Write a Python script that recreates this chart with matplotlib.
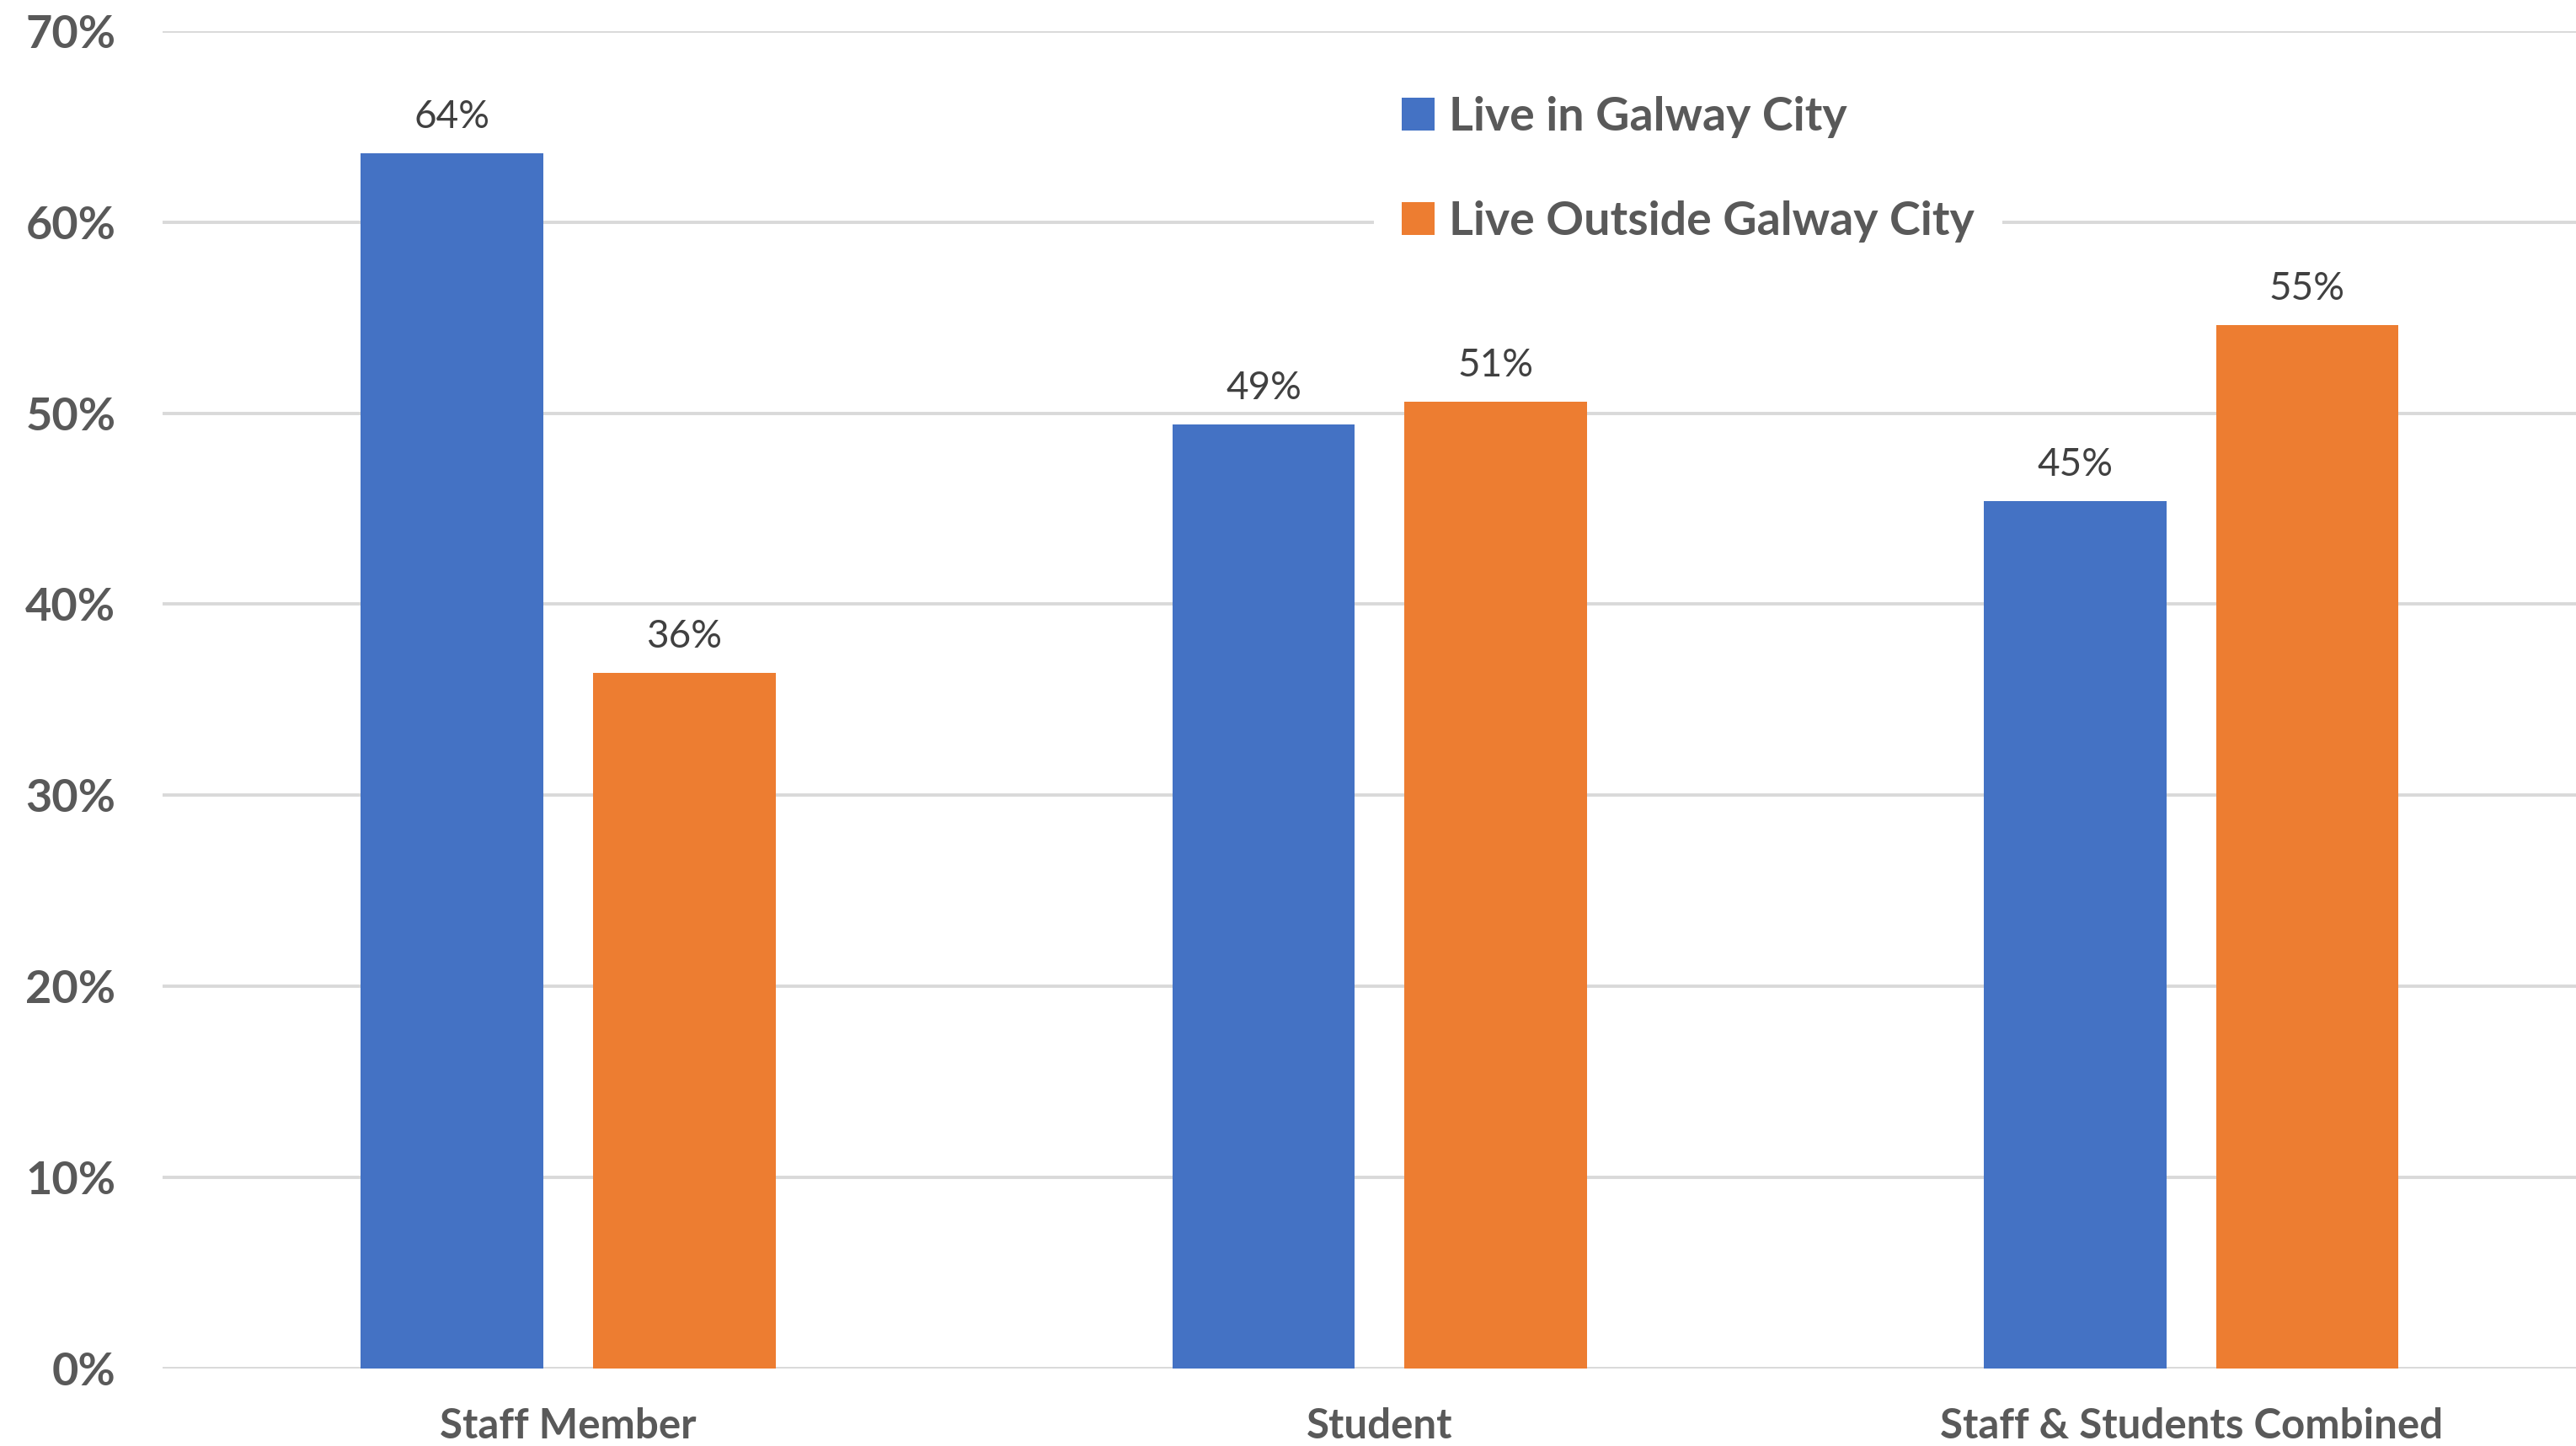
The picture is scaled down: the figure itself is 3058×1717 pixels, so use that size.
import matplotlib
matplotlib.use("Agg")
import matplotlib.pyplot as plt
import numpy as np

categories = ["Staff Member", "Student", "Staff & Students Combined"]
live_in_city = [63.6, 49.4, 45.4]
live_outside = [36.4, 50.6, 54.6]
series_names = ["Live in Galway City", "Live Outside Galway City"]
y_ticks = [0, 10, 20, 30, 40, 50, 60, 70]

BLUE = "#4472C4"
ORANGE = "#ED7D31"
GRID = "#D9D9D9"
TICK_TXT = "#595959"
VAL_TXT = "#404040"

plt.rcParams["font.family"] = ["Lato", "DejaVu Sans"]

fig = plt.figure(figsize=(30.58, 17.17), dpi=100)
ax = fig.add_axes([0.0631, 0.0536, 0.945, 0.925])

x = np.arange(len(categories))
w = 0.225
off = 0.143

b1 = ax.bar(x - off, live_in_city, w, color=BLUE, label=series_names[0], zorder=3)
b2 = ax.bar(x + off, live_outside, w, color=ORANGE, label=series_names[1], zorder=3)

for bars in (b1, b2):
    for r in bars:
        h = r.get_height()
        ax.annotate(f"{h:.0f}%", (r.get_x() + r.get_width() / 2, h),
                    xytext=(0, 16), textcoords="offset points",
                    ha="center", va="bottom", fontsize=33, color=VAL_TXT)

ax.set_xlim(-0.5, 2.5)
ax.set_ylim(0, 70)
ax.set_yticks(y_ticks)
ax.set_yticklabels([f"{t}%" for t in y_ticks])
ax.set_xticks(x)
ax.set_xticklabels(categories)

ax.grid(axis="y", color=GRID, linewidth=2.8, zorder=0)
ax.set_axisbelow(True)
for s in ax.spines.values():
    s.set_visible(False)
ax.tick_params(axis="both", length=0)
ax.tick_params(axis="y", pad=40, labelsize=39, labelcolor=TICK_TXT)
ax.tick_params(axis="x", pad=33, labelsize=35.5, labelcolor=TICK_TXT)
for lab in ax.get_yticklabels() + ax.get_xticklabels():
    lab.set_fontweight("bold")

leg = ax.legend(loc="upper left", bbox_to_anchor=(0.488, 0.99), frameon=True,
                facecolor="white", edgecolor="none", framealpha=1, fancybox=False,
                fontsize=40, handlelength=0.7, handleheight=0.7,
                handletextpad=0.3, labelspacing=1.33, borderpad=0.6)
for t in leg.get_texts():
    t.set_color(TICK_TXT)
    t.set_fontweight("bold")

fig.savefig("out.png", dpi=100, facecolor="white")
